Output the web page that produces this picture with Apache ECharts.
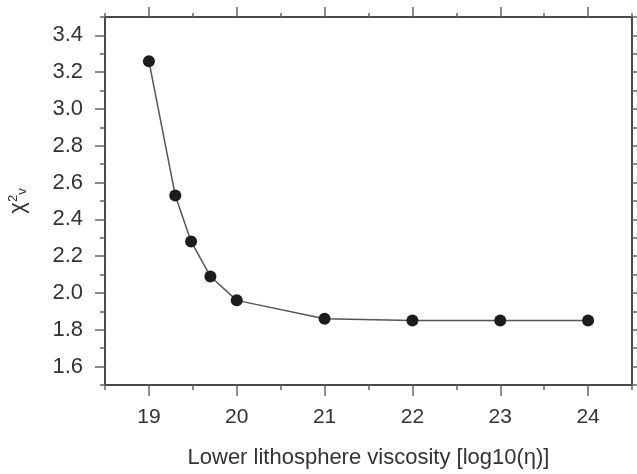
<!DOCTYPE html>
<html>
<head>
<meta charset="utf-8">
<script src="https://cdn.jsdelivr.net/npm/echarts@6/dist/echarts.min.js"></script>
<style>
  html, body { margin: 0; padding: 0; background: #fff; }
  #grafico { width: 637px; height: 474px; }
</style>
</head>
<body>
<div id="grafico"></div>
<script>
// viscosidad log10(eta) vs chi2 reducido
const viscosidad = [19, 19.3, 19.48, 19.7, 20, 21, 22, 23, 24]
const chi2 = [3.26, 2.53, 2.28, 2.09, 1.96, 1.86, 1.85, 1.85, 1.85]

const ticksX = [19, 20, 21, 22, 23, 24]
const ticksXMenor = [18.5, 19.5, 20.5, 21.5, 22.5, 23.5, 24.5]
const ticksY = [1.6, 1.8, 2.0, 2.2, 2.4, 2.6, 2.8, 3.0, 3.2, 3.4]
const ticksYMenor = [1.5, 1.6, 1.7, 1.8, 1.9, 2.0, 2.1, 2.2, 2.3, 2.4, 2.5, 2.6, 2.7, 2.8, 2.9, 3.0, 3.1, 3.2, 3.3, 3.4, 3.5]

const fuente = "'Liberation Sans', Arial, Helvetica, sans-serif"
const colorEje = '#4a4a4a'

const chart = echarts.init(document.getElementById('grafico'))

function ejeX(pos, extra) {
  return Object.assign({
    type: 'value',
    position: pos,
    min: 18.5,
    max: 24.5,
    splitLine: { show: false },
    axisLine: { show: true, onZero: false, lineStyle: { color: colorEje, width: 2 } },
    axisTick: { show: false },
    axisLabel: { show: false }
  }, extra)
}

function ejeY(pos, extra) {
  return Object.assign({
    type: 'value',
    position: pos,
    min: 1.5,
    max: 3.5,
    splitLine: { show: false },
    axisLine: { show: true, onZero: false, lineStyle: { color: colorEje, width: 2 } },
    axisTick: { show: false },
    axisLabel: { show: false }
  }, extra)
}

const option = {
  animation: false,
  backgroundColor: '#fff',
  grid: { left: 105, right: 5, top: 17, bottom: 89, show: false, outerBoundsMode: 'none', containLabel: false },
  xAxis: [
    ejeX('bottom', {
      axisTick: { show: true, customValues: ticksX, length: 11, lineStyle: { color: '#666', width: 1.5 } },
      axisLabel: {
        show: true, customValues: ticksX, margin: 22,
        fontSize: 21, fontFamily: fuente, color: '#333'
      },
      name: 'Lower lithosphere viscosity [log10(η)]',
      nameLocation: 'middle',
      nameGap: 62,
      nameTextStyle: { fontSize: 22, fontFamily: fuente, color: '#333' }
    }),
    ejeX('bottom', {
      axisLine: { show: false },
      axisTick: { show: true, customValues: ticksXMenor, length: 5, lineStyle: { color: '#666', width: 1.5 } }
    }),
    ejeX('top', {
      axisTick: { show: true, customValues: ticksX, length: 10, lineStyle: { color: '#666', width: 1.5 } }
    }),
    ejeX('top', {
      axisLine: { show: false },
      axisTick: { show: true, customValues: ticksXMenor, length: 4, lineStyle: { color: '#666', width: 1.5 } }
    })
  ],
  yAxis: [
    ejeY('left', {
      axisTick: { show: true, customValues: ticksY, length: 10, lineStyle: { color: '#666', width: 1.5 } },
      axisLabel: {
        show: true, customValues: ticksY, margin: 22,
        fontSize: 22, fontFamily: fuente, color: '#333',
        formatter: v => v.toFixed(1)
      },
      name: '{c|χ}{s|2}{b|v}',
      nameLocation: 'middle',
      nameGap: 76,
      nameRotate: 90,
      nameTextStyle: {
        fontFamily: fuente, color: '#333',
        rich: {
          c: { fontSize: 22, fontFamily: fuente, color: '#333', lineHeight: 22 },
          s: { fontSize: 13, fontFamily: fuente, color: '#333', lineHeight: 22, verticalAlign: 'top' },
          b: { fontSize: 13, fontFamily: fuente, color: '#333', lineHeight: 22, verticalAlign: 'bottom' }
        }
      }
    }),
    ejeY('left', {
      axisLine: { show: false },
      axisTick: { show: true, customValues: ticksYMenor, length: 5, lineStyle: { color: '#666', width: 1.5 } }
    }),
    ejeY('right', {
      axisTick: { show: true, customValues: ticksYMenor, length: 5, lineStyle: { color: '#666', width: 1.5 } }
    })
  ],
  series: [
    {
      type: 'line',
      xAxisIndex: 0,
      yAxisIndex: 0,
      data: viscosidad.map((v, i) => [v, chi2[i]]),
      symbol: 'circle',
      symbolSize: 12,
      itemStyle: { color: '#1c1c1c' },
      lineStyle: { color: '#555', width: 1.5 }
    }
  ]
}

chart.setOption(option)
</script>
</body>
</html>
